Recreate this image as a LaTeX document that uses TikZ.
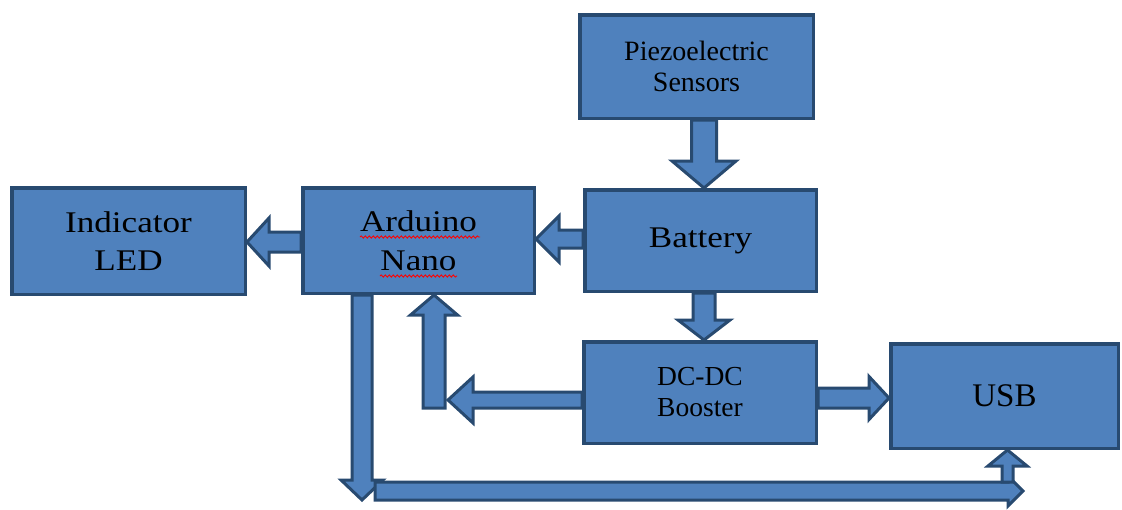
\documentclass[tikz,border=0pt]{standalone}
\usepackage{fontspec}
\setmainfont{Liberation Serif}
\newfontfamily\tnr{Liberation Serif}
\newfontfamily\tnrw[FakeStretch=1.17]{Liberation Serif}
\usetikzlibrary{calc,decorations.pathmorphing}
\definecolor{boxfill}{HTML}{4F81BD}
\definecolor{boxline}{HTML}{284A70}
% vertical block arrow: from, to, shaft half, head half, head length, sign (+1 down, -1 up)
\newcommand{\varr}[6]{\draw[barr] let \p1=(#1),\p2=(#2) in
  ({\x1-#3pt},\y1) -- ({\x1-#3pt},{\y2+(#6)*#5pt}) -- ({\x1-#4pt},{\y2+(#6)*#5pt}) -- (\x1,\y2)
  -- ({\x1+#4pt},{\y2+(#6)*#5pt}) -- ({\x1+#3pt},{\y2+(#6)*#5pt}) -- ({\x1+#3pt},\y1) -- cycle;}
% horizontal block arrow: sign (+1 left, -1 right)
\newcommand{\harr}[6]{\draw[barr] let \p1=(#1),\p2=(#2) in
  (\x1,{\y1-#3pt}) -- ({\x2+(#6)*#5pt},{\y1-#3pt}) -- ({\x2+(#6)*#5pt},{\y1-#4pt}) -- (\x2,\y1)
  -- ({\x2+(#6)*#5pt},{\y1+#4pt}) -- ({\x2+(#6)*#5pt},{\y1+#3pt}) -- (\x1,{\y1+#3pt}) -- cycle;}
\begin{document}
\begin{tikzpicture}[x=1pt,y=-1pt,
  blk/.style={draw=boxline, fill=boxfill, line width=3.5pt, inner sep=0pt, align=center, text=black},
  barr/.style={draw=boxline, fill=boxfill, line width=3pt, line join=miter},
  squig/.style={red, line width=0.9pt, decorate, decoration={snake, amplitude=1.1pt, segment length=4pt}}]
\useasboundingbox (0,0) rectangle (1122,509);

% boxes (placed first so arrows can reference them)
\node[blk, minimum width=233.5pt, minimum height=103.5pt, font=\tnr\fontsize{28}{31}\selectfont] (piezo) at (696.5,66.5) {Piezoelectric\\Sensors};
\node[blk, minimum width=231.5pt, minimum height=101.5pt, font=\tnrw\fontsize{30}{38}\selectfont] (bat) at (700.5,240.5) {Battery};
\node[blk, minimum width=231.5pt, minimum height=105.5pt, font=\tnrw\fontsize{30}{39}\selectfont] (ard) at (418.5,240.5) {Arduino\\Nano};
\node[blk, minimum width=233.5pt, minimum height=106.5pt, font=\tnrw\fontsize{30}{38}\selectfont] (led) at (128.5,241) {Indicator\\LED};
\node[blk, minimum width=232.5pt, minimum height=101.5pt, font=\tnr\fontsize{27.5}{31}\selectfont] (dc) at (700,392.5) {DC-DC\\Booster};
\node[blk, minimum width=227.5pt, minimum height=104.5pt, font=\tnr\fontsize{33}{38}\selectfont] (usb) at (1004.5,396) {USB};

% arrow end points
\coordinate (a1s) at ([xshift=7.5pt]piezo.south);
\coordinate (a1e) at (a1s |- bat.north);
\coordinate (a2s) at ([xshift=3.5pt]bat.south);
\coordinate (a2e) at (a2s |- dc.north);
\coordinate (a3s) at ([yshift=1.5pt]bat.west);
\coordinate (a3e) at (a3s -| ard.east);
\coordinate (a4s) at ([yshift=-1.5pt]ard.west);
\coordinate (a4e) at (a4s -| led.east);
\coordinate (a5s) at ([yshift=-7.5pt]dc.west);
\coordinate (a5e) at ([xshift=-134pt]a5s);
\coordinate (a6s) at ([xshift=15.5pt,yshift=-113pt]ard.south);
\coordinate (a6e) at (a6s |- ard.south);
\coordinate (a7s) at ([xshift=-56.5pt]ard.south);
\coordinate (a7e) at ([yshift=-205pt]a7s);
\coordinate (a8s) at ([xshift=13pt,yshift=9pt]a7e);
\coordinate (a8e) at ([xshift=648pt]a8s);
\coordinate (u9) at ([xshift=3pt]usb.south);
\coordinate (a9b) at (u9 |- a8s);
\coordinate (a9s) at ([yshift=9pt]a9b);
\coordinate (a10s) at ([yshift=-5.5pt]dc.east);
\coordinate (a10e) at (a10s -| usb.west);

% block arrows
\varr{a1s}{a1e}{12.5}{32}{27}{1}
\varr{a2s}{a2e}{11}{26}{20}{1}
\harr{a3s}{a3e}{9}{23}{23}{1}
\harr{a4s}{a4e}{10}{24}{22}{1}
\harr{a5s}{a5e}{8}{23}{25}{1}
\varr{a6s}{a6e}{11}{23.5}{20}{-1}
\varr{a7s}{a7e}{10}{21}{20}{1}
\harr{a8s}{a8e}{9}{15}{15}{-1}
\varr{a9s}{u9}{5.5}{19.5}{16}{-1}
\harr{a10s}{a10e}{10}{21.5}{20}{-1}

% boxes redrawn on top so arrow roots merge into the borders
\node[blk, minimum width=233.5pt, minimum height=103.5pt, font=\tnr\fontsize{28}{31}\selectfont] (piezoT) at (piezo.center) {Piezoelectric\\Sensors};
\node[blk, minimum width=231.5pt, minimum height=101.5pt, font=\tnrw\fontsize{30}{38}\selectfont] (batT) at (bat.center) {Battery};
\node[blk, minimum width=231.5pt, minimum height=105.5pt, font=\tnrw\fontsize{30}{39}\selectfont] (ardT) at (ard.center) {Arduino\\Nano};
\node[blk, minimum width=232.5pt, minimum height=101.5pt, font=\tnr\fontsize{27.5}{31}\selectfont] (dcT) at (dc.center) {DC-DC\\Booster};

% spell-check underlines
\coordinate (w1a) at ([xshift=-58.5pt,yshift=3.5pt]ard.center);
\coordinate (w1b) at ([xshift=61.5pt,yshift=3.5pt]ard.center);
\coordinate (w2a) at ([xshift=-38.5pt,yshift=-35.5pt]ard.center);
\coordinate (w2b) at ([xshift=38.5pt,yshift=-35.5pt]ard.center);
\draw[squig] (w1a) -- (w1b);
\draw[squig] (w2a) -- (w2b);
\end{tikzpicture}
\end{document}
